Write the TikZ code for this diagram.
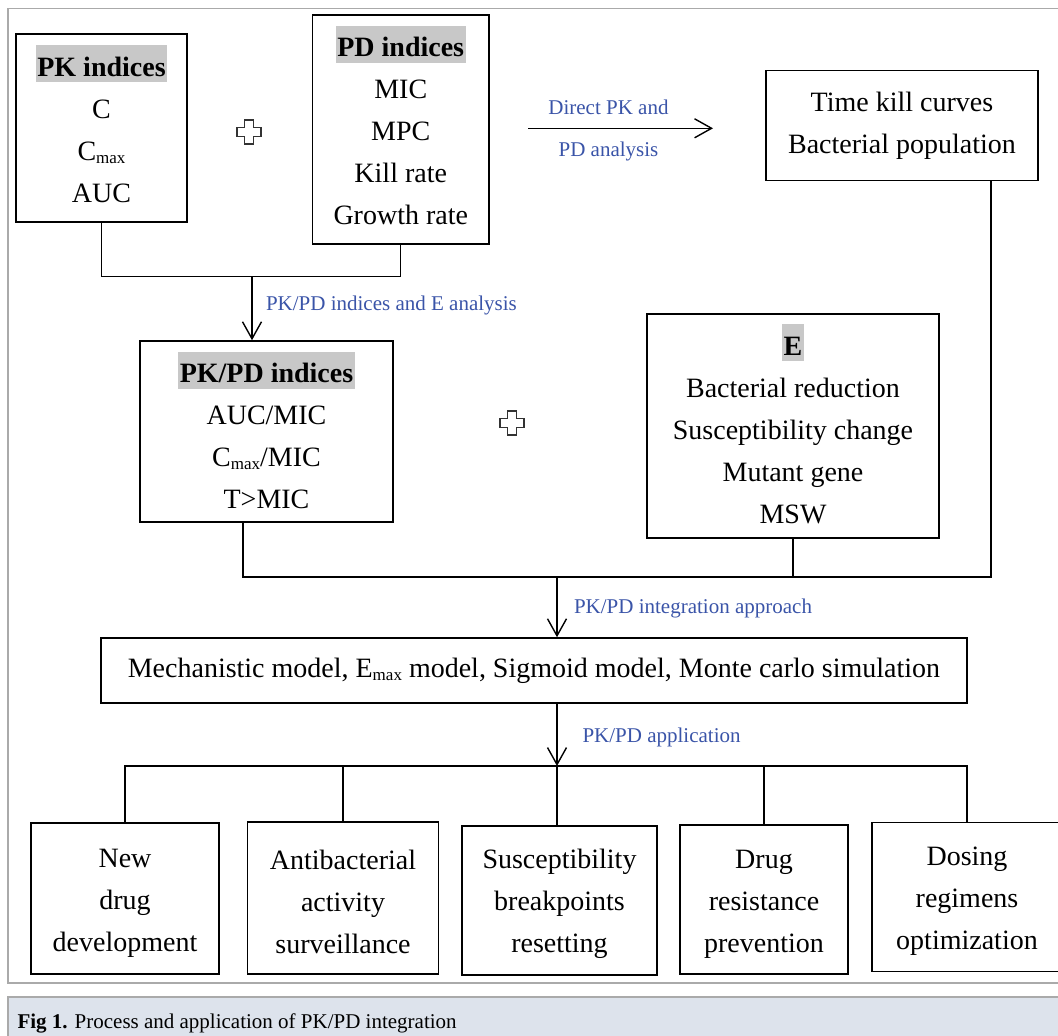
\documentclass[tikz,border=0pt]{standalone}
\usepackage{fontspec}
\setmainfont{Liberation Serif}
\usetikzlibrary{arrows.meta}

\definecolor{labelblue}{RGB}{58,84,168}
\definecolor{hlgray}{RGB}{200,200,200}
\definecolor{framegray}{RGB}{170,170,170}
\definecolor{capfill}{RGB}{221,227,236}

% lowered "max" subscript and grey header highlight
\newcommand{\maxsub}{\raisebox{-3pt}{\fontsize{17}{17}\selectfont max}}
\newcommand{\hdr}[1]{{\setlength{\fboxsep}{1.5pt}\colorbox{hlgray}{\rule[-4.5pt]{0pt}{34pt}\textbf{#1}}}}
\newcommand{\pad}[1]{\rule[-#1]{0pt}{0pt}}
\newcommand{\toppad}{\rule{0pt}{27pt}}

\tikzset{
  pdbox/.style={draw, line width=1.6pt, align=center, inner sep=0pt},
  connector/.style={line width=1.4pt},
  flowarrow/.style={connector, -{Straight Barb[length=17pt,width=19pt]}},
  steplabel/.style={text=labelblue, font=\fontsize{21}{25}\selectfont},
  pics/plusmark/.style={code={
    \draw[line width=1.5pt, black!80] (-4.5,-12) -- (4.5,-12) -- (4.5,-4.5) -- (12,-4.5)
      -- (12,4.5) -- (4.5,4.5) -- (4.5,12) -- (-4.5,12) -- (-4.5,4.5) -- (-12,4.5)
      -- (-12,-4.5) -- (-4.5,-4.5) -- cycle;
  }}
}

\begin{document}
\begin{tikzpicture}[x=1pt, y=-1pt, font=\fontsize{28}{42}\selectfont]
    \useasboundingbox (0,0) rectangle (1058,1036);
    \clip (0,0) rectangle (1058,1036);

    % Outer frame and caption bar
    \draw[framegray, line width=1.5pt] (8,8.5) rectangle (1075,983);
    \fill[capfill] (8,997) rectangle (1075,1045);
    \draw[framegray, line width=1.5pt] (8,1045) -- (8,997) -- (1075,997);
    \node[anchor=base west, font=\fontsize{21}{25}\selectfont] (caption) at (14,1028)
        {\textbf{Fig 1.} Process and application of PK/PD integration};

    % Indices
    \node[pdbox, minimum width=171pt, minimum height=188pt] (pk) at (101.5,127.8)
        {\hdr{PK indices}\\ C\\ C\maxsub\\ AUC\pad{8.6pt}};
    \node[pdbox, minimum width=176.5pt, minimum height=229pt] (pd) at (400.75,129.7)
        {\hdr{PD indices}\\ MIC\\ MPC\\ Kill rate\\ Growth rate\pad{9pt}};
    \node[pdbox, minimum width=272pt, minimum height=110pt] (tkc) at (902,125.5)
        {Time kill curves\\ Bacterial population};
    \node[pdbox, minimum width=253pt, minimum height=181pt] (pkpd) at (266.5,431.5)
        {\hdr{PK/PD indices}\\ AUC/MIC\\ C\maxsub/MIC\\ T>MIC\pad{3pt}};
    \node[pdbox, minimum width=292pt, minimum height=224pt] (eff) at (793,426)
        {\hdr{E}\\ Bacterial reduction\\ Susceptibility change\\ Mutant gene\\ MSW\pad{5pt}};

    % Plus signs
    \pic at (249,132.2) {plusmark};
    \pic at (512,423) {plusmark};

    % Models
    \node[pdbox, minimum width=866pt, minimum height=65pt] (model) at (534,670.5)
        {Mechanistic model, E\maxsub{} model, Sigmoid model, Monte carlo simulation};

    % Applications
    \node[pdbox, minimum width=188pt, minimum height=151pt] (app1) at (125,898.5)
        {\toppad New\\ drug\\ development};
    \node[pdbox, minimum width=191pt, minimum height=152pt] (app2) at (343,898)
        {\toppad Antibacterial\\ activity\\ surveillance};
    \node[pdbox, minimum width=195pt, minimum height=149pt] (app3) at (559.5,900.5)
        {\toppad Susceptibility\\ breakpoints\\ resetting};
    \node[pdbox, minimum width=168pt, minimum height=149pt] (app4) at (764,899.5)
        {\toppad Drug\\ resistance\\ prevention};
    \node[pdbox, minimum width=190pt, minimum height=149pt] (app5) at (967,897)
        {\toppad Dosing\\ regimens\\ optimization};

    % Direct PK and PD analysis
    \coordinate (dirA) at (528,128.3);
    \coordinate (dirB) at (713,128.3);
    \draw[flowarrow] (dirA) -- node[steplabel, above=10pt, pos=0.435] {Direct PK and}
        node[steplabel, below=10pt, pos=0.435] {PD analysis} (dirB);

    % PK + PD -> PK/PD indices
    \coordinate (jtop) at (252,276.7);
    \draw[connector] (pk.south) |- (jtop) -| (pd.south);
    \draw[flowarrow] (jtop) -- node[steplabel, right=10pt, pos=0.46] {PK/PD indices and E analysis}
        (jtop |- pkpd.north);

    % PK/PD indices + E + time kill -> models
    \coordinate (jmid) at (557,577);
    \coordinate (pkpddrop) at ([xshift=-23.5pt]pkpd.south);
    \coordinate (tkcdrop) at ([xshift=89pt]tkc.south);
    \draw[connector] (pkpddrop) |- (tkcdrop |- jmid) -- (tkcdrop);
    \draw[connector] (eff.south) -- (eff.south |- jmid);
    \draw[flowarrow] (jmid) -- node[steplabel, right=13pt, pos=0.52] {PK/PD integration approach}
        (jmid |- model.north);

    % Models -> applications
    \coordinate (jbot) at (557,766);
    \draw[flowarrow] (model.south -| jmid) -- node[steplabel, right=21.5pt, pos=0.54] {PK/PD application}
        (jbot);
    \draw[connector] (app1.north) |- (jbot) -| (app5.north);
    \draw[connector] (jbot) -- (jbot |- app3.north);
    \foreach \n in {app2,app4}
        \draw[connector] (\n.north) -- (\n.north |- jbot);
\end{tikzpicture}
\end{document}
